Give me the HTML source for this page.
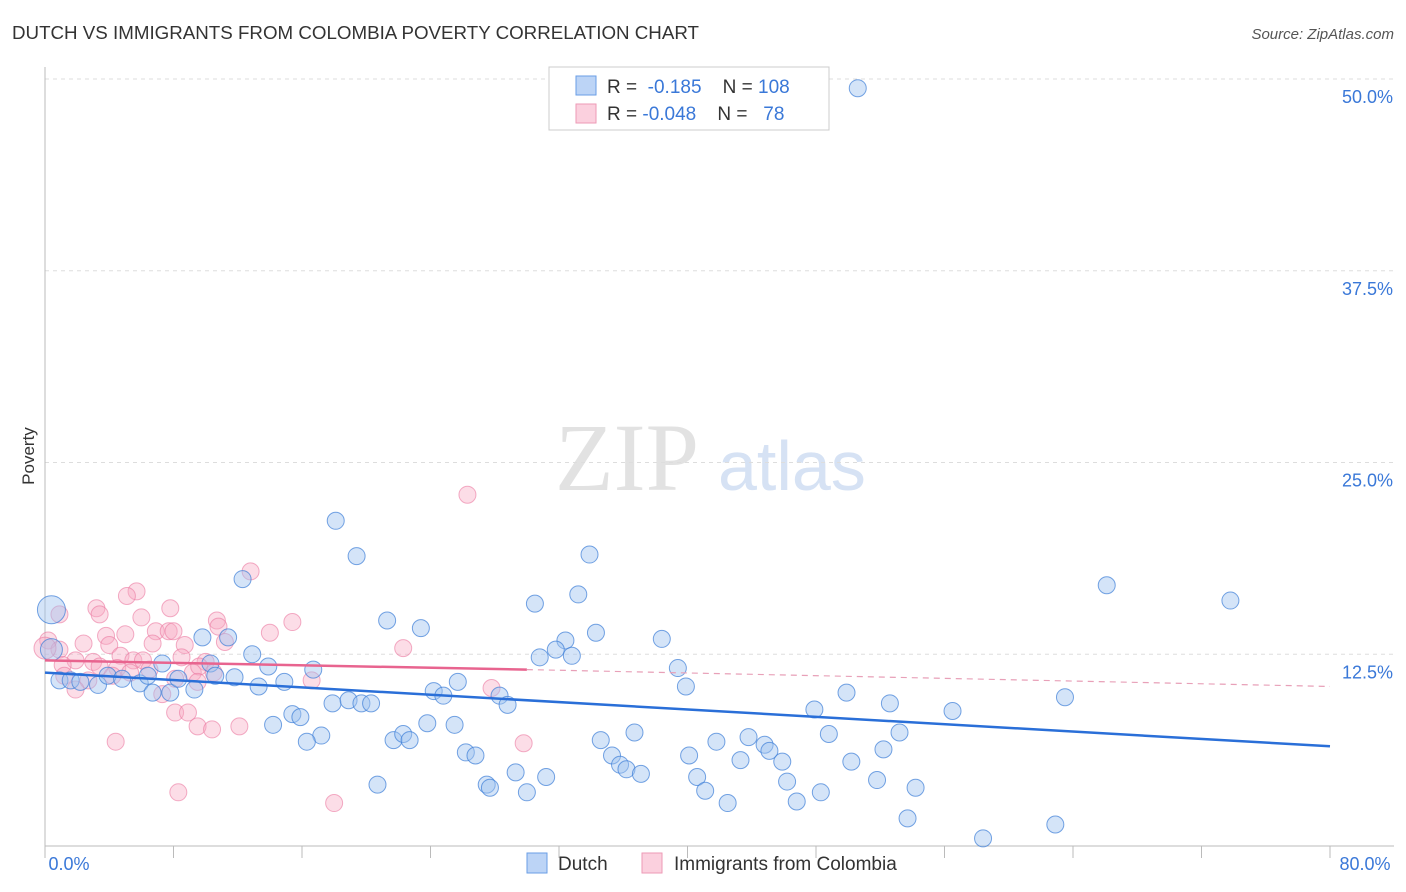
<!DOCTYPE html>
<html><head><meta charset="utf-8"><style>
body{margin:0;background:#fff;font-family:"Liberation Sans",sans-serif}
svg{display:block}
</style></head><body>
<svg id="c" width="1406" height="892">
<text x="12" y="39" font-size="18" fill="#333" textLength="687" lengthAdjust="spacingAndGlyphs">DUTCH VS IMMIGRANTS FROM COLOMBIA POVERTY CORRELATION CHART</text>
<text x="1394" y="39" font-size="15" fill="#555" font-style="italic" text-anchor="end">Source: ZipAtlas.com</text>
<text x="34" y="456" font-size="17" fill="#333" transform="rotate(-90 34 456)" text-anchor="middle">Poverty</text>
<text x="555" y="490" font-size="96" fill="#e2e2e2" font-family="Liberation Serif,serif">ZIP</text>
<text x="718" y="490" font-size="70" fill="#d6e2f4">atlas</text>
<g id="grid"></g><g id="pts"></g><g id="lines"></g>
<g>
<rect x="549" y="67" width="280" height="63" fill="#fff" stroke="#ccc"/>
<rect x="576" y="76" width="20" height="19" fill="#bcd4f6" stroke="#6a9ee6"/>
<rect x="576" y="104" width="20" height="19" fill="#fbd0de" stroke="#ee9ab6"/>
<text x="607" y="93" font-size="19" fill="#333">R = <tspan fill="#3a78d8">&#160;-0.185</tspan>&#160;&#160;&#160;&#160;N = <tspan fill="#3a78d8">108</tspan></text>
<text x="607" y="120" font-size="19" fill="#333">R = <tspan fill="#3a78d8">-0.048</tspan>&#160;&#160;&#160;&#160;N = <tspan fill="#3a78d8">&#160;&#160;78</tspan></text>
</g>
<g>
<rect x="527" y="853" width="20" height="20" fill="#bcd4f6" stroke="#6a9ee6"/>
<text x="558" y="870" font-size="19" fill="#333">Dutch</text>
<rect x="642" y="853" width="20" height="20" fill="#fbd0de" stroke="#ee9ab6"/>
<text x="674" y="870" font-size="19" fill="#333">Immigrants from Colombia</text>
</g>
</svg>
<script>
const X0=45,X1=1330,Y0=846,YPER=15.34;
const xTicks=[0,8,16,24,32,40,48,56,64,72,80];
const yTicks=[12.5,25,37.5,50];
const yTickLabels=["12.5%","25.0%","37.5%","50.0%"];
const dutchX=[50.6,18.1,19.4,33.9,12.3,66.1,73.8,33.2,30.5,21.3,23.4,34.3,38.4,32.4,9.8,11.4,31.8,32.8,30.8,12.9,10.3,7.3,13.9,16.7,39.4,0.9,1.6,2.2,3.3,3.9,4.8,5.9,6.4,6.7,7.8,8.3,9.3,10.6,11.8,13.3,14.9,25.7,24.2,24.8,28.3,28.8,39.9,17.9,18.9,19.7,20.3,15.4,15.9,14.2,23.8,25.5,47.9,49.9,52.6,56.5,63.5,17.2,16.3,21.7,22.3,22.7,34.6,36.7,41.8,43.8,44.8,45.1,48.8,53.2,52.2,26.2,26.8,35.3,40.1,43.3,45.9,50.2,35.8,36.2,37.1,29.3,31.2,40.6,51.8,20.7,27.5,27.7,30.0,41.1,46.2,48.3,54.2,42.5,46.8,53.7,58.4,62.9,0.4,0.4];
const dutchY=[49.4,21.2,18.9,19.0,17.4,17.0,16.0,16.4,15.8,14.7,14.2,13.9,13.5,13.4,13.6,13.6,12.8,12.4,12.3,12.5,11.9,11.9,11.7,11.5,11.6,10.8,10.8,10.7,10.5,11.1,10.9,10.6,11.1,10.0,10.0,10.9,10.2,11.1,11.0,10.4,10.7,10.7,10.1,9.8,9.8,9.2,10.4,9.3,9.5,9.3,9.3,8.6,8.4,7.9,8.0,7.9,8.9,10.0,9.3,8.8,9.7,7.2,6.8,6.9,7.3,6.9,6.9,7.4,6.8,7.1,6.6,6.2,7.3,7.4,6.3,6.1,5.9,5.9,5.9,5.6,5.5,5.5,5.3,5.0,4.7,4.8,4.5,4.5,4.3,4.0,4.0,3.8,3.5,3.6,4.2,3.5,3.8,2.8,2.9,1.8,0.5,1.4,12.8,15.4];
const colX=[26.3,12.8,5.7,5.1,3.2,3.4,0.9,6.0,7.8,10.7,10.8,15.4,14.0,3.8,5.0,6.9,7.7,8.0,4.0,2.4,6.7,8.7,11.2,22.3,0.2,0.9,1.9,3.0,4.7,5.5,6.1,8.5,10.0,1.1,3.4,4.5,5.3,6.5,9.2,9.6,10.5,1.2,2.7,4.2,8.1,16.6,9.5,1.9,27.8,7.3,8.1,8.9,9.5,10.4,12.1,4.4,29.8,8.3,18.0,0];
const colY=[22.9,17.9,16.6,16.3,15.5,15.1,15.1,14.9,15.5,14.7,14.3,14.6,13.9,13.7,13.8,14.0,14.0,14.0,13.1,13.2,13.2,13.1,13.3,12.9,13.4,12.8,12.1,12.0,12.4,12.1,12.1,12.3,12.0,11.8,11.7,11.6,11.3,11.5,11.3,11.7,11.3,11.1,10.8,11.1,10.9,10.8,10.7,10.2,10.3,9.9,8.7,8.7,7.8,7.6,7.8,6.8,6.7,3.5,2.8,12.9];
const dutchTrend=[11.3,6.5];
const colTrend=[12.1,11.5,10.4];
const xs=v=>X0+v/80*(X1-X0), ys=v=>Y0-v*YPER;
const NS="http://www.w3.org/2000/svg";
function mk(tag,at,parent){const e=document.createElementNS(NS,tag);for(const k in at)e.setAttribute(k,at[k]);parent.appendChild(e);return e;}
const g=document.getElementById('grid'),p=document.getElementById('pts'),l=document.getElementById('lines');
yTicks.forEach((t,i)=>{
 const ln=mk('line',{x1:X0,x2:1394,y1:ys(t),y2:ys(t),stroke:'#ddd','stroke-dasharray':'4 4'},g);
 
 
 const tx=mk('text',{x:1393,y:ys(t)+24,'font-size':18,fill:'#3a78d8','text-anchor':'end'},g);
 tx.textContent=yTickLabels[i];
 
 
});
const ax=mk('line',{x1:X0,x2:X0,y1:67,y2:Y0,stroke:'#bbb'},g);


const bx=mk('line',{x1:X0,x2:1394,y1:Y0,y2:Y0,stroke:'#bbb'},g);


xTicks.forEach(t=>{
 const tk=mk('line',{x1:xs(t),x2:xs(t),y1:Y0,y2:Y0+12,stroke:'#bbb'},g);
 
 
});
[[0,"0.0%",69],[80,"80.0%",1365]].forEach(a=>{
 const tx=mk('text',{x:a[2],y:870,'font-size':18,fill:'#3a78d8','text-anchor':'middle'},g);
 tx.textContent=a[1];
 
 
});
colX.forEach((x,i)=>{
 const c=mk('circle',{cx:xs(x),cy:ys(colY[i]),r:i==colX.length-1?11:8.5,fill:'rgba(247,170,195,0.4)',stroke:'rgba(235,120,160,0.6)'},p);
 
 
});
dutchX.forEach((x,i)=>{
 const c=mk('circle',{cx:xs(x),cy:ys(dutchY[i]),r:i>=dutchX.length-2?(i==dutchX.length-1?14:11):8.5,fill:'rgba(160,195,240,0.45)',stroke:'rgba(60,125,215,0.7)'},p);
 
 
});
const dl=mk('line',{x1:xs(0),x2:xs(80),y1:ys(dutchTrend[0]),y2:ys(dutchTrend[1]),stroke:'#2a6fd8','stroke-width':2.5},l);


const cl=mk('line',{x1:xs(0),x2:xs(30),y1:ys(colTrend[0]),y2:ys(colTrend[1]),stroke:'#e8648f','stroke-width':2.5},l);


const cd=mk('line',{x1:xs(30),x2:xs(80),y1:ys(colTrend[1]),y2:ys(colTrend[2]),stroke:'#e8a0b8','stroke-width':1.2,'stroke-dasharray':'6 5'},l);


</script>
</body></html>
